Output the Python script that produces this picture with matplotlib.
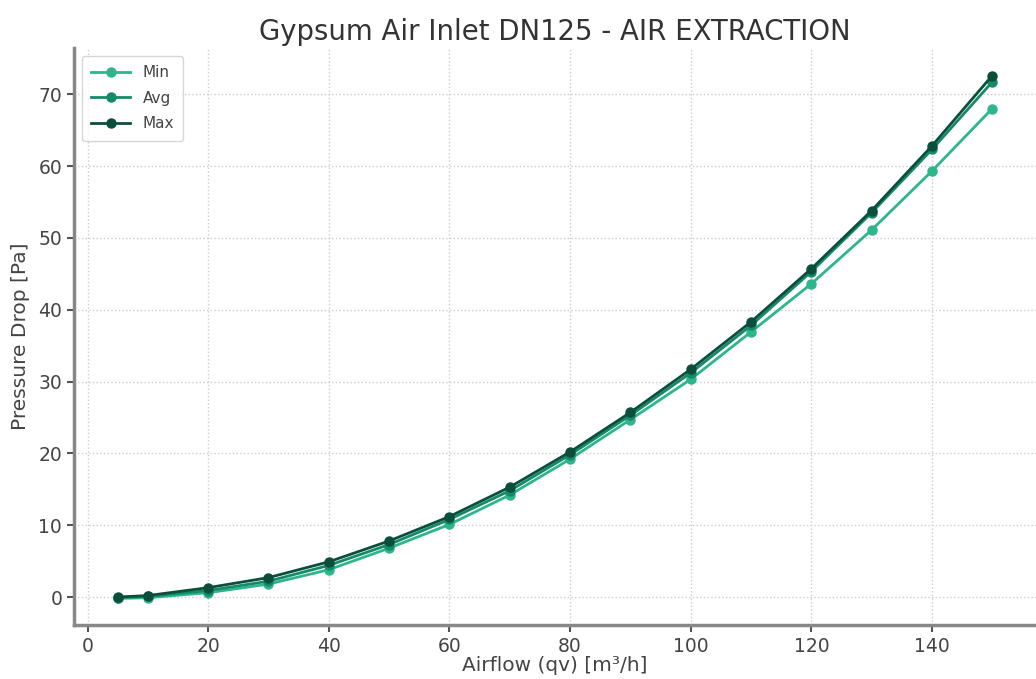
import matplotlib
matplotlib.use("Agg")
import matplotlib.pyplot as plt

airflow = [5, 10, 20, 30, 40, 50, 60, 70, 80, 90, 100, 110, 120, 130, 140, 150]
p_min = [-0.2, -0.1, 0.6, 1.8, 3.8, 6.8, 10.1, 14.2, 19.2, 24.7, 30.3, 36.9, 43.6, 51.1, 59.3, 68.0]
p_avg = [-0.1, 0.1, 0.9, 2.2, 4.4, 7.3, 10.8, 14.8, 19.8, 25.3, 31.2, 37.8, 45.3, 53.5, 62.3, 71.7]
p_max = [0.0, 0.2, 1.3, 2.7, 4.9, 7.8, 11.2, 15.3, 20.2, 25.7, 31.7, 38.3, 45.7, 53.8, 62.8, 72.6]
series_labels = ["Min", "Avg", "Max"]
colors = ["#2db58c", "#148a6b", "#0b4f3b"]

fig = plt.figure(figsize=(10.36, 6.79), dpi=100)
ax = fig.add_axes([0.0714, 0.0795, 0.9286, 0.8495])

for y, lab, c in zip([p_min, p_avg, p_max], series_labels, colors):
    ax.plot(airflow, y, marker="o", color=c, label=lab, linewidth=2, markersize=6.5)

ax.set_xlim(-2.25, 157.25)
ax.set_ylim(-3.9, 76.4)
ax.set_xticks(range(0, 141, 20))
ax.set_yticks(range(0, 71, 10))
ax.grid(True, linestyle=":", color="#cccccc", linewidth=1)
for s in ["top", "right"]:
    ax.spines[s].set_visible(False)
for s in ["left", "bottom"]:
    ax.spines[s].set_color("#888888")
    ax.spines[s].set_linewidth(2.5)
ax.tick_params(colors="#555555", labelsize=13.5, width=1.5, length=5)
for lbl in ax.get_xticklabels() + ax.get_yticklabels():
    lbl.set_color("#444444")

ax.set_title("Gypsum Air Inlet DN125 - AIR EXTRACTION", fontsize=19.8, color="#333333", pad=6)
ax.set_xlabel("Airflow (qv) [m³/h]", fontsize=14.5, color="#444444", labelpad=0)
ax.set_ylabel("Pressure Drop [Pa]", fontsize=14.5, color="#444444", labelpad=6)
leg = ax.legend(loc="upper left", fontsize=11, frameon=True, handlelength=2.6,
                labelspacing=0.7, borderpad=0.6, borderaxespad=0.5)
for t in leg.get_texts():
    t.set_color("#444444")

fig.savefig("out.png", dpi=100)
